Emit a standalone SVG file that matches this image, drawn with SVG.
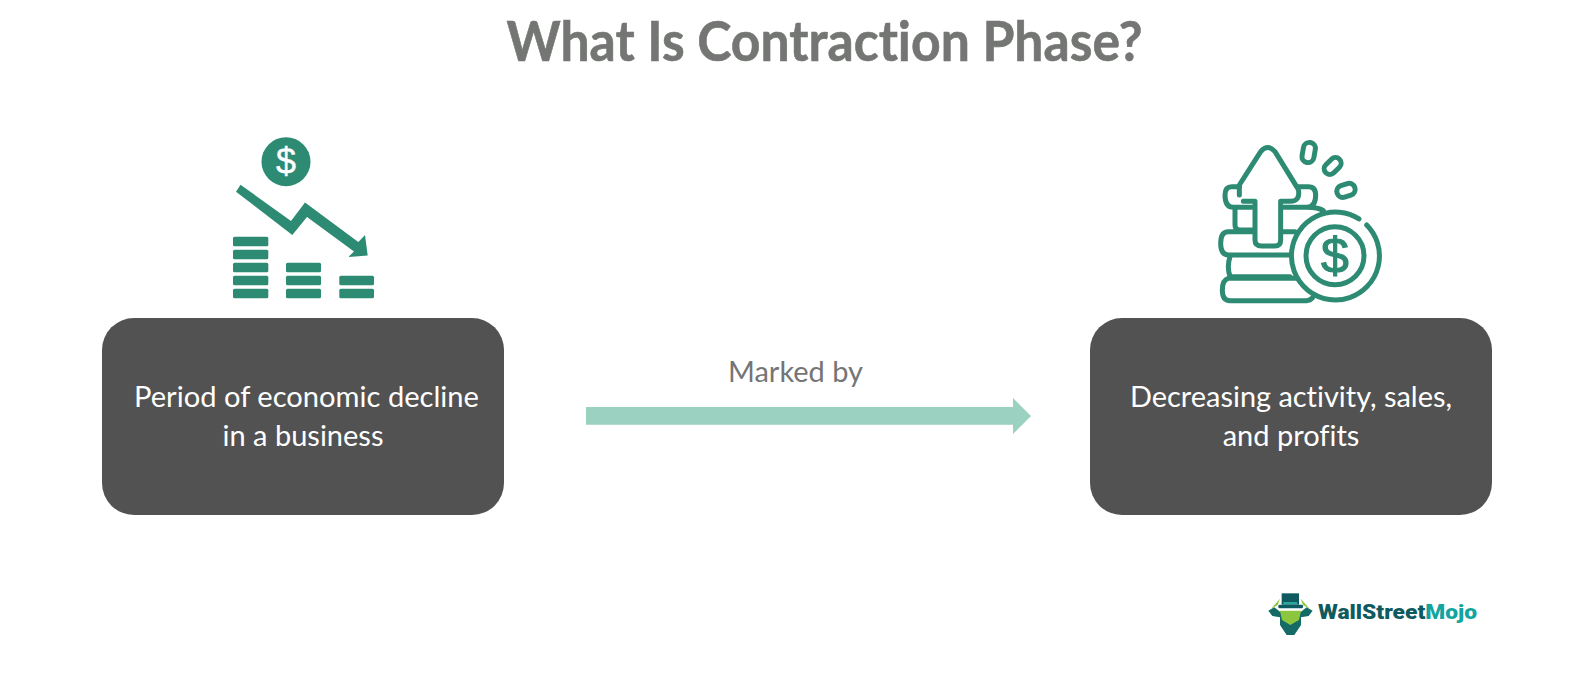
<svg xmlns="http://www.w3.org/2000/svg" width="1594" height="691" viewBox="0 0 1594 691">
<style>
text{font-variant-ligatures:none}
.box{fill:#525252}
.bt{font-family:Lato,"Open Sans",sans-serif;font-size:29px;fill:#fff;text-anchor:middle}
.g{fill:#2e8b73}
.o{fill:none;stroke:#2e8b73;stroke-width:15;stroke-linecap:round;stroke-linejoin:round}
</style>
<rect width="1594" height="691" fill="#fff"/>
<text id="title" x="824.5" y="60.5" text-anchor="middle" textLength="636" lengthAdjust="spacingAndGlyphs" font-family="Lato,sans-serif" font-weight="700" font-size="56" fill="#747674" stroke="#747674" stroke-width=".6">What Is Contraction Phase?</text>
<g id="icon-decline">
<circle class="g" cx="286" cy="161.7" r="24.5"/>
<text x="286" y="174" text-anchor="middle" font-family="Liberation Sans,sans-serif" font-size="36" fill="#fff" stroke="#fff" stroke-width=".4">$</text>
<polygon class="g" points="240.5,184.7 291,221 305,202.5 358.3,242 365,235 367.7,255.5 348.3,257 354,251.5 307,217 292.3,235 236,191.7"/>
<g class="g">
<rect x="233" y="236.7" width="35.3" height="9.6" rx="1.5"/><rect x="233" y="249.7" width="35.3" height="9.6" rx="1.5"/><rect x="233" y="262.7" width="35.3" height="9.6" rx="1.5"/><rect x="233" y="275.7" width="35.3" height="9.6" rx="1.5"/><rect x="233" y="288.7" width="35.3" height="9.6" rx="1.5"/>
<rect x="286" y="262.7" width="35" height="9.6" rx="1.5"/><rect x="286" y="275.7" width="35" height="9.6" rx="1.5"/><rect x="286" y="288.7" width="35" height="9.6" rx="1.5"/>
<rect x="339.3" y="275.7" width="34.7" height="9.6" rx="1.5"/><rect x="339.3" y="288.7" width="34.7" height="9.6" rx="1.5"/>
</g>
</g>
<g id="icon-coins">
<g transform="translate(1190 130) scale(.3333)">
<path class="o" d="M160 214H195V330Q195 348 215 348H255Q272 348 272 330V214H300Q332 214 325 178L255 65Q233 40 212 65L148 165V195"/>
<path class="o" d="M148 170H125Q105 170 105 195Q105 232 130 232H185M325 170H355Q377 170 377 195Q377 232 350 232H282M350 232Q385 232 400 242"/>
<path class="o" d="M135 240V285Q135 300 150 300H190M275 305H315M190 305H115Q92 305 92 340Q92 375 115 375H300M120 380Q110 410 120 440H300M115 445Q97 450 97 480Q97 512 120 512H350Q360 512 368 503M115 445H320"/>
<rect class="o" x="338" y="37" width="36" height="61" rx="18" transform="rotate(10 356 68)"/>
<rect class="o" x="411" y="79" width="34" height="58" rx="17" transform="rotate(45 428 108)"/>
<rect class="o" x="450" y="153" width="36" height="56" rx="18" transform="rotate(72 468 181)"/>
</g>
<path d="M1366.7 225A44 44 0 1 1 1359 218.8" fill="none" stroke="#2e8b73" stroke-width="5" stroke-linecap="round"/>
<circle cx="1335" cy="255.7" r="29" fill="none" stroke="#2e8b73" stroke-width="5"/>
<text x="1335" y="273" text-anchor="middle" font-family="Liberation Sans,sans-serif" font-size="50" fill="#2e8b73" stroke="#2e8b73" stroke-width="1.2">$</text>
</g>
<g id="node-left">
<rect class="box" x="102" y="318" width="402" height="197" rx="32"/>
<text class="bt" x="306.5" y="407" textLength="345" lengthAdjust="spacingAndGlyphs">Period of economic decline</text>
<text class="bt" x="303" y="445.7">in a business</text>
</g>
<g id="node-right">
<rect class="box" x="1090" y="318" width="402" height="197" rx="32"/>
<text class="bt" x="1291" y="407" textLength="322" lengthAdjust="spacingAndGlyphs">Decreasing activity, sales,</text>
<text class="bt" x="1291" y="445.7">and profits</text>
</g>
<g id="connectors">
<polygon points="586,407 1013,407 1013,398 1031,416 1013,434 1013,424.7 586,424.7" fill="#9bd1c1"/>
<text x="795.5" y="381.7" text-anchor="middle" textLength="135" lengthAdjust="spacingAndGlyphs" font-family="Lato,sans-serif" font-size="29" fill="#757575">Marked by</text>
</g>
<g id="logo">
<g transform="translate(1235 570) scale(.3333)">
<path d="M135 125H198V165L178 195H155L135 165Z" fill="#146b66"/>
<path d="M135 122H198L192 150L166 165L141 150Z" fill="#8cc63f"/>
<rect x="140" y="70" width="52" height="34" fill="#0e5a5f"/>
<rect x="130" y="104" width="74" height="11" rx="4" fill="#0e5a5f"/>
<rect x="145" y="96" width="42" height="7" fill="#2aa79b"/>
<path d="M100 122L118 112L135 125V142L112 138Z" fill="#146b66"/>
<path d="M233 122L215 112L198 125V142L221 138Z" fill="#146b66"/>
<path d="M135 86L128 105L108 116Z M197 86L204 105L224 116Z" fill="#8cc63f"/>
</g>
<text x="1318" y="619.3" textLength="159" lengthAdjust="spacingAndGlyphs" font-family="Roboto,sans-serif" font-weight="900" font-size="21" fill="#0e5a5f">WallStreet<tspan fill="#12a5a0">Mojo</tspan></text>
</g>
</svg>
